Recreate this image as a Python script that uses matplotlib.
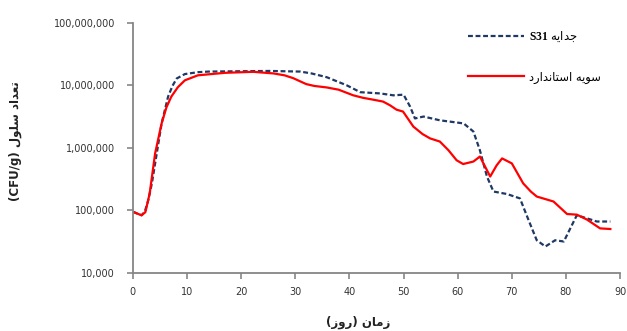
import numpy as np
import matplotlib
matplotlib.use("Agg")
import matplotlib.pyplot as plt
from matplotlib.ticker import FixedLocator, FuncFormatter, NullLocator

# days and counts (CFU/g)
days_std = [0, 1, 1.6, 2.3, 3.1, 4.1, 5.3, 6.2, 7.1, 8.3, 9.6, 12, 17, 22.2, 26, 28, 29.6,
            32, 33.5, 35.8, 38, 40.7, 42.5, 44.4, 46.2, 47.5, 48.7, 49.9, 51.8, 53.5, 54.9,
            56.7, 58.3, 59.8, 61, 62.9, 64.1, 66, 67.2, 68.2, 70, 72.1, 73.5, 74.6, 77.7,
            80.2, 82, 83.9, 86.3, 88.2]
log_std = [4.976, 4.94, 4.92, 4.97, 5.27, 5.91, 6.39, 6.65, 6.82, 6.97, 7.08, 7.16, 7.20,
           7.216, 7.19, 7.16, 7.115, 7.02, 6.99, 6.966, 6.93, 6.84, 6.80, 6.77, 6.74,
           6.68, 6.61, 6.58, 6.34, 6.22, 6.15, 6.10, 5.96, 5.80, 5.74, 5.78, 5.86, 5.54, 5.72,
           5.83, 5.75, 5.43, 5.30, 5.22, 5.14, 4.94, 4.93, 4.85, 4.71, 4.70]
std_counts = [10 ** v for v in log_std]

days_s31 = [0, 1, 1.6, 2.2, 2.8, 3.5, 4.4, 5.3, 6.5, 7.3, 8.1, 9.6, 12, 14, 25.3, 30.9, 33,
            35.8, 39.5, 42, 45.7, 48.1, 50, 51.2, 52.1, 53.7, 56.7, 61.1, 62.9, 64.1, 65.4,
            66.6, 69.1, 71.5, 73.1, 74.6, 76.2, 78, 79.6, 82, 83.9, 85.7, 88.2]
log_s31 = [4.976, 4.94, 4.92, 4.98, 5.15, 5.43, 5.91, 6.39, 6.82, 6.99, 7.11, 7.18, 7.21,
           7.22, 7.23, 7.22, 7.19, 7.13, 7.00, 6.89, 6.87, 6.84, 6.85, 6.66, 6.47, 6.50,
           6.44, 6.39, 6.26, 5.96, 5.54, 5.30, 5.26, 5.19, 4.84, 4.52, 4.42, 4.52, 4.50,
           4.92, 4.87, 4.82, 4.82]
s31_counts = [10 ** v for v in log_s31]

x_ticks = [0, 10, 20, 30, 40, 50, 60, 70, 80, 90]
y_ticks = [1e4, 1e5, 1e6, 1e7, 1e8]

# contextual forms (isolated, final, initial, medial) for the letters used
FORMS = {
    'ا': ('\uFE8D', '\uFE8E'),
    'ت': ('\uFE95', '\uFE96', '\uFE97', '\uFE98'),
    'ج': ('\uFE9D', '\uFE9E', '\uFE9F', '\uFEA0'),
    'د': ('\uFEA9', '\uFEAA'),
    'ر': ('\uFEAD', '\uFEAE'),
    'ز': ('\uFEAF', '\uFEB0'),
    'س': ('\uFEB1', '\uFEB2', '\uFEB3', '\uFEB4'),
    'ع': ('\uFEC9', '\uFECA', '\uFECB', '\uFECC'),
    'ل': ('\uFEDD', '\uFEDE', '\uFEDF', '\uFEE0'),
    'م': ('\uFEE1', '\uFEE2', '\uFEE3', '\uFEE4'),
    'ن': ('\uFEE5', '\uFEE6', '\uFEE7', '\uFEE8'),
    'ه': ('\uFEE9', '\uFEEA', '\uFEEB', '\uFEEC'),
    'و': ('\uFEED', '\uFEEE'),
    'ی': ('\uFEEF', '\uFEF0', '\uFEF3', '\uFEF4'),
}


def fa(text):
    # shape persian letters and flip to visual order
    out = []
    for i, ch in enumerate(text):
        if ch not in FORMS:
            out.append(ch)
            continue
        prev = text[i - 1] if i > 0 else ''
        nxt = text[i + 1] if i + 1 < len(text) else ''
        joins_prev = prev in FORMS and len(FORMS[prev]) == 4
        joins_next = nxt in FORMS and len(FORMS[ch]) == 4
        f = FORMS[ch]
        if joins_prev and joins_next:
            out.append(f[3])
        elif joins_prev:
            out.append(f[1])
        elif joins_next:
            out.append(f[2])
        else:
            out.append(f[0])
    return ''.join(out[::-1])


def main():
    plt.rcParams['font.family'] = ['DejaVu Sans']
    plt.rcParams['mathtext.fontset'] = 'custom'
    plt.rcParams['mathtext.bf'] = 'Liberation Serif:bold'

    fig = plt.figure(figsize=(6.27, 3.31), dpi=100)
    ax = fig.add_axes([0.212, 0.176, 0.777, 0.755])

    ax.plot(days_s31, s31_counts, color='#1F3864', lw=1.6, ls=(0, (2.2, 1.2)),
            label=r'$\mathbf{S31}$ ' + fa('جدایه'))
    ax.plot(days_std, std_counts, color='#FF0000', lw=1.6,
            label=fa('سویه استاندارد'))

    ax.set_yscale('log')
    ax.set_xlim(0, 90)
    ax.set_ylim(1e4, 1e8)
    ax.xaxis.set_major_locator(FixedLocator(x_ticks))
    ax.yaxis.set_major_locator(FixedLocator(y_ticks))
    ax.yaxis.set_minor_locator(NullLocator())
    ax.yaxis.set_major_formatter(FuncFormatter(lambda v, p: f'{int(round(v)):,}'))

    for s in ['top', 'right']:
        ax.spines[s].set_visible(False)
    for s in ['left', 'bottom']:
        ax.spines[s].set_color('#868686')
        ax.spines[s].set_linewidth(1.3)
    ax.tick_params(axis='y', length=4, width=1.2, color='#868686', pad=9,
                   labelsize=7, labelcolor='#333333')
    ax.tick_params(axis='x', length=4, width=1.2, color='#868686', pad=6,
                   labelsize=7, labelcolor='#333333')

    fig.text(0.024, 0.574, '(CFU/g) ' + fa('تعداد سلول'), rotation=90,
             ha='center', va='center', fontsize=8.5, fontweight='bold', color='#222222')
    fig.text(0.571, 0.027, '(' + fa('روز') + ') ' + fa('زمان'),
             ha='center', va='center', fontsize=8.5, fontweight='bold', color='#222222')

    ax.legend(loc='upper left', bbox_to_anchor=(0.746, 0.91), bbox_transform=fig.transFigure,
              frameon=False, fontsize=8.3, handlelength=4.9, handletextpad=0.45,
              labelspacing=2.3, borderaxespad=0, borderpad=0)

    fig.savefig('out.png', dpi=100)


if __name__ == "__main__":
    main()
